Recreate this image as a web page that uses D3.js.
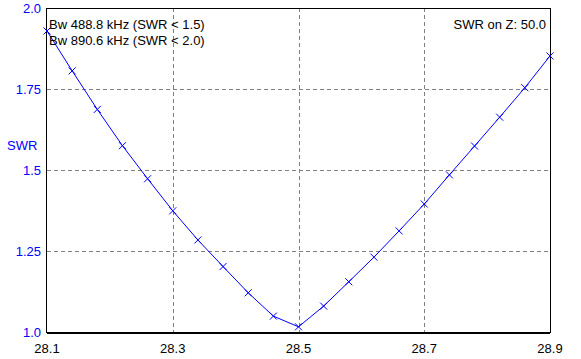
<!DOCTYPE html>
<html>
<head>
<meta charset="utf-8">
<script src="https://cdn.jsdelivr.net/npm/d3@7"></script>
<style>
  body { margin: 0; background: #fff; }
  svg { display: block; font-family: "Liberation Sans", Arial, sans-serif; }
</style>
</head>
<body>
<svg id="chart"></svg>
<script>
// frequency in MHz, SWR
const freqs = [28.10, 28.14, 28.18, 28.22, 28.26, 28.30, 28.34, 28.38, 28.42, 28.46, 28.50,
               28.54, 28.58, 28.62, 28.66, 28.70, 28.74, 28.78, 28.82, 28.86, 28.90];
const swr = [1.929, 1.806, 1.687, 1.575, 1.473, 1.374, 1.284, 1.202, 1.121, 1.049, 1.016,
             1.080, 1.155, 1.231, 1.312, 1.395, 1.485, 1.574, 1.663, 1.754, 1.852];
const xTicks = [28.1, 28.3, 28.5, 28.7, 28.9];
const yTicks = [1.0, 1.25, 1.5, 1.75, 2.0];
const yTickLabels = ["1.0", "1.25", "1.5", "1.75", "2.0"];
const infoLines = ["Bw 488.8 kHz (SWR < 1.5)", "Bw 890.6 kHz (SWR < 2.0)"];
const zLabel = "SWR on Z: 50.0";

const width = 581, height = 359;
const plotL = 47, plotR = 550, plotT = 8, plotB = 332;
const fs = 13;

const svg = d3.select("#chart").attr("width", width).attr("height", height);

const x = d3.scaleLinear().domain([28.1, 28.9]).range([plotL, plotR]);
const y = d3.scaleLinear().domain([1.0, 2.0]).range([plotB, plotT]);

// grid
const grid = svg.append("g").attr("stroke", "#808080").attr("stroke-dasharray", "4,3")
  .attr("shape-rendering", "crispEdges");
grid.selectAll("line.v").data(xTicks.slice(1, -1)).join("line").attr("class", "v")
  .attr("x1", d => Math.round(x(d)) + 0.5).attr("x2", d => Math.round(x(d)) + 0.5)
  .attr("y1", plotT).attr("y2", plotB);
grid.selectAll("line.h").data(yTicks.slice(1, -1)).join("line").attr("class", "h")
  .attr("y1", d => Math.round(y(d)) + 0.5).attr("y2", d => Math.round(y(d)) + 0.5)
  .attr("x1", plotL).attr("x2", plotR);

// frame
svg.append("rect")
  .attr("x", plotL - 0.5).attr("y", plotT + 0.5)
  .attr("width", plotR - plotL + 0.5).attr("height", plotB - plotT)
  .attr("fill", "none").attr("stroke", "#000").attr("stroke-width", 1)
  .attr("shape-rendering", "crispEdges");
svg.append("line").attr("x1", plotL - 0.5).attr("x2", plotR).attr("y1", plotB + 0.5).attr("y2", plotB + 0.5)
  .attr("stroke", "#000").attr("stroke-width", 2).attr("shape-rendering", "crispEdges");

// y labels
svg.append("g").selectAll("text").data(yTicks).join("text")
  .attr("x", 41).attr("y", d => y(d)).attr("dy", "0.35em")
  .attr("text-anchor", "end").attr("fill", "#0000ff").attr("font-size", fs)
  .text((d, i) => yTickLabels[i]);

svg.append("text").attr("x", 7).attr("y", 145).attr("dy", "0.35em")
  .attr("fill", "#0000ff").attr("font-size", fs).text("SWR");

// x labels
svg.append("g").selectAll("text").data(xTicks).join("text")
  .attr("x", d => x(d)).attr("y", 348).attr("dy", "0.35em")
  .attr("text-anchor", "middle").attr("fill", "#000").attr("font-size", fs)
  .text(d => d.toFixed(1));

// SWR curve
const pts = freqs.map((f, i) => [f, swr[i]]);
svg.append("path").datum(pts)
  .attr("fill", "none").attr("stroke", "#0000ff").attr("stroke-width", 1)
  .attr("d", d3.line().x(d => x(d[0])).y(d => y(d[1])));

const s = 3.5;
svg.append("g").selectAll("path").data(pts).join("path")
  .attr("fill", "none").attr("stroke", "#0000ff").attr("stroke-width", 1)
  .attr("d", d => {
    const cx = x(d[0]), cy = y(d[1]);
    return `M${cx - s},${cy - s}L${cx + s},${cy + s}M${cx - s},${cy + s}L${cx + s},${cy - s}`;
  });

// info text
svg.append("g").selectAll("text").data(infoLines).join("text")
  .attr("x", 49).attr("y", (d, i) => 24 + i * 16).attr("dy", "0.35em")
  .attr("fill", "#000").attr("font-size", fs).text(d => d);

svg.append("text").attr("x", 546).attr("y", 24).attr("dy", "0.35em")
  .attr("text-anchor", "end").attr("fill", "#000").attr("font-size", fs).text(zLabel);
</script>
</body>
</html>
